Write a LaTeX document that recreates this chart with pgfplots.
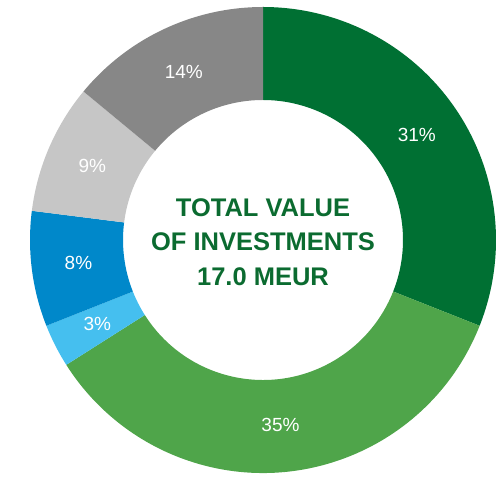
\documentclass[border=0pt]{standalone}
\usepackage{fontspec}
\setmainfont{Liberation Sans}
\usepackage{pgfplots}
\usepackage{pgfplotstable}
\pgfplotsset{compat=1.18}

\definecolor{dgreen}{HTML}{007033}
\definecolor{mgreen}{HTML}{4FA54A}
\definecolor{lblue}{HTML}{45BFEF}
\definecolor{mblue}{HTML}{0088CA}
\definecolor{lgrey}{HTML}{C6C6C6}
\definecolor{dgrey}{HTML}{878787}
\definecolor{titlegreen}{HTML}{0B6B30}

% share of total investments, clockwise from 12 o'clock
\pgfplotstableread{
value col
31 dgreen
35 mgreen
3  lblue
8  mblue
9  lgrey
14 dgrey
}\invest

\def\rout{233}
\def\rin{140}
\def\rlab{186}

\begin{document}
\begin{tikzpicture}
\begin{axis}[
  width=500pt, height=476pt,
  scale only axis,
  hide axis,
  xmin=-263, xmax=237,
  ymin=-236, ymax=240,
  clip=false,
]
\def\cum{0}
\pgfplotsforeachungrouped \i in {0,...,5}{
  \pgfplotstablegetelem{\i}{value}\of\invest \let\val\pgfplotsretval
  \pgfplotstablegetelem{\i}{col}\of\invest \let\col\pgfplotsretval
  \pgfmathsetmacro\sa{90-3.6*\cum}
  \pgfmathsetmacro\ea{90-3.6*(\cum+\val)}
  \pgfmathsetmacro\ma{(\sa+\ea)/2}
  \pgfmathsetmacro\xo{\rout*cos(\sa)}
  \pgfmathsetmacro\yo{\rout*sin(\sa)}
  \pgfmathsetmacro\xi{\rin*cos(\ea)}
  \pgfmathsetmacro\yi{\rin*sin(\ea)}
  \pgfmathsetmacro\xl{\rlab*cos(\ma)}
  \pgfmathsetmacro\yl{\rlab*sin(\ma)}
  \edef\temp{\noexpand\fill[\col] (axis cs:\xo,\yo)
    arc[start angle=\sa, end angle=\ea, radius=\rout]
    -- (axis cs:\xi,\yi)
    arc[start angle=\ea, end angle=\sa, radius=\rin] -- cycle;
    \noexpand\node[text=white, font=\noexpand\fontsize{19}{21}\noexpand\selectfont]
      at (axis cs:\xl,\yl) {\val\noexpand\%};}
  \temp
  \pgfmathsetmacro\cum{\cum+\val}
}
\node[text=titlegreen, align=center,
  font=\fontsize{25.5}{34.5}\selectfont\bfseries] at (axis cs:0,-2)
  {TOTAL VALUE\\OF INVESTMENTS\\17.0 MEUR};
\end{axis}
\pgfresetboundingbox
\path (current axis.south west) rectangle (current axis.north east);
\end{tikzpicture}
\end{document}
